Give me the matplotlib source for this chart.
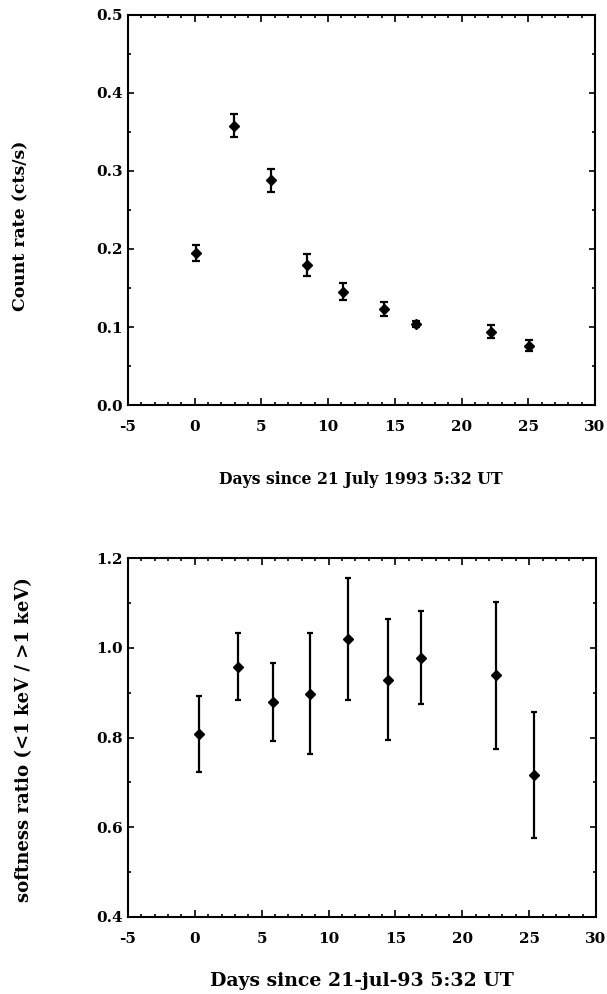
import matplotlib
matplotlib.use("Agg")
import matplotlib.pyplot as plt
from matplotlib.ticker import MultipleLocator, FormatStrFormatter

# ---- data ----
days_rate = [0.13, 2.98, 5.73, 8.43, 11.13, 14.15, 16.61, 22.21, 25.05]
count_rate = [0.195, 0.358, 0.288, 0.180, 0.145, 0.123, 0.104, 0.094, 0.076]
count_err = [0.010, 0.015, 0.015, 0.014, 0.011, 0.0085, 0.004, 0.0085, 0.007]

days_soft = [0.29, 3.19, 5.88, 8.62, 11.46, 14.44, 16.93, 22.51, 25.37]
softness = [0.808, 0.958, 0.880, 0.898, 1.019, 0.929, 0.978, 0.939, 0.716]
soft_err = [0.084, 0.075, 0.087, 0.134, 0.136, 0.135, 0.104, 0.164, 0.140]

xticks = [-5, 0, 5, 10, 15, 20, 25, 30]
xtick_labels = ["-5", "0", "5", "10", "15", "20", "25", "30"]

top_ylabel = "Count rate (cts/s)"
top_xlabel = "Days since 21 July 1993 5:32 UT"
bot_ylabel = "softness ratio (<1 keV / >1 keV)"
bot_xlabel = "Days since 21-jul-93 5:32 UT"

plt.rcParams["font.family"] = ["DejaVu Serif", "Liberation Serif"]
plt.rcParams["font.weight"] = "bold"

W, H = 607, 994
fig = plt.figure(figsize=(W / 100, H / 100), dpi=100)


def axes_px(left, top, right, bottom):
    return fig.add_axes([left / W, 1 - bottom / H, (right - left) / W, (bottom - top) / H])


ax1 = axes_px(128, 15, 595, 405)
ax2 = axes_px(128, 558, 596, 917)


def style(ax, ymajor, yminor):
    ax.set_xlim(-5, 30)
    ax.set_xticks(xticks)
    ax.set_xticklabels(xtick_labels)
    ax.xaxis.set_minor_locator(MultipleLocator(1))
    ax.yaxis.set_major_locator(MultipleLocator(ymajor))
    ax.yaxis.set_minor_locator(MultipleLocator(yminor))
    ax.yaxis.set_major_formatter(FormatStrFormatter("%.1f"))
    for s in ax.spines.values():
        s.set_linewidth(1.5)
    ax.tick_params(axis="x", which="both", direction="in", top=True, bottom=True,
                   width=1.2, labelsize=11, pad=11)
    ax.tick_params(axis="x", which="major", length=5)
    ax.tick_params(axis="x", which="minor", length=2.5)
    ax.tick_params(axis="y", which="both", direction="in", left=True, right=True,
                   width=1.2, labelsize=11, pad=4)
    ax.tick_params(axis="y", which="major", length=4)
    ax.tick_params(axis="y", which="minor", length=2.5)
    for lab in ax.get_xticklabels() + ax.get_yticklabels():
        lab.set_fontweight("bold")


ax1.errorbar(days_rate, count_rate, yerr=count_err, fmt="D", color="black",
             markersize=5.5, elinewidth=1.6, capsize=2.8, capthick=1.6)
ax1.set_ylim(0, 0.5)
style(ax1, 0.1, 0.05)

ax2.errorbar(days_soft, softness, yerr=soft_err, fmt="D", color="black",
             markersize=5.5, elinewidth=1.6, capsize=2.3, capthick=1.6)
ax2.set_ylim(0.4, 1.2)
style(ax2, 0.2, 0.1)

# axis titles placed in pixel positions, font size fitted to reference length
renderer = fig.canvas.get_renderer()


def fitted_text(s, cx, cy, target_len, rot=0, size0=12):
    t = fig.text(cx / W, 1 - cy / H, s, ha="center", va="center", rotation=rot,
                 fontsize=size0, fontweight="bold")
    bb = t.get_window_extent(renderer)
    cur = bb.height if rot == 90 else bb.width
    t.set_fontsize(size0 * target_len / cur)
    return t


fitted_text(top_xlabel, 361, 480, 284)
fitted_text(bot_xlabel, 362, 981, 304)
fitted_text(bot_ylabel, 24, 740, 326, rot=90)
fitted_text(top_ylabel, 21, 226, 170, rot=90)

fig.savefig("out.png", dpi=100)
